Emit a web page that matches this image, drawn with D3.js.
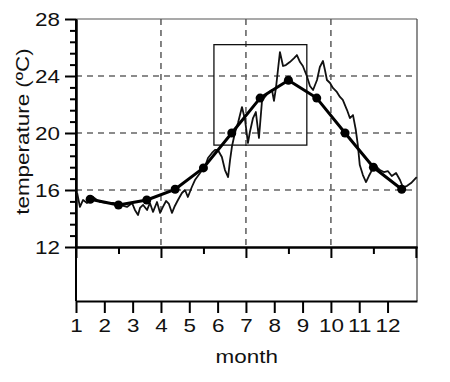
<!DOCTYPE html>
<html>
<head>
<meta charset="utf-8">
<script src="https://cdn.jsdelivr.net/npm/d3@7/dist/d3.min.js"></script>
<style>
    body { margin: 0; background: #fff; }
    svg text { font-family: "Liberation Sans", Arial, sans-serif; fill: #111; }
</style>
</head>
<body>
<div id="chart"></div>
<script>
// monthly mean (thick line with dots)
var meanMonths = [1.5, 2.5, 3.5, 4.5, 5.5, 6.5, 7.5, 8.5, 9.5, 10.5, 11.5, 12.5];
var meanTemps = [15.35, 14.95, 15.3, 16.05, 17.55, 20.0, 22.45, 23.7, 22.45, 20.0, 17.6, 16.05];

// daily-ish record (thin noisy line)
var dailyMonths = [1.04, 1.14, 1.25, 1.39, 1.49, 1.60, 1.74, 1.85, 2.09, 2.31, 2.55, 2.80, 2.98, 3.08, 3.19, 3.26,
    3.37, 3.51, 3.61, 3.72, 3.86, 3.97, 4.07, 4.18, 4.28, 4.39, 4.49, 4.60, 4.74, 4.85, 4.95, 5.09, 5.20, 5.38,
    5.55, 5.66, 5.80, 5.91, 6.01, 6.15, 6.26, 6.37, 6.44, 6.51, 6.61, 6.72, 6.86, 6.97, 7.07, 7.14, 7.25, 7.35,
    7.46, 7.57, 7.67, 7.78, 7.92, 7.99, 8.06, 8.13, 8.20, 8.31, 8.41, 8.55, 8.70, 8.80, 8.91, 9.01, 9.15, 9.26,
    9.37, 9.51, 9.61, 9.72, 9.79, 9.86, 9.97, 10.07, 10.21, 10.32, 10.42, 10.57, 10.67, 10.78, 10.88, 10.95,
    11.02, 11.13, 11.24, 11.34, 11.45, 11.59, 11.73, 11.87, 12.01, 12.15, 12.30, 12.44, 12.54, 12.68, 12.83,
    12.93, 13.03];
var dailyTemps = [15.79, 14.81, 15.30, 15.09, 15.44, 15.51, 15.30, 15.16, 15.09, 15.09, 14.95, 14.81, 15.09, 14.60,
    14.25, 14.74, 14.95, 14.60, 15.09, 14.46, 15.16, 14.39, 14.81, 15.23, 15.02, 14.39, 14.88, 15.30, 15.79, 16.00,
    15.51, 16.21, 16.70, 17.19, 17.61, 18.25, 18.60, 18.81, 18.81, 18.32, 17.40, 16.91, 18.11, 19.09, 20.00, 20.70,
    21.82, 20.91, 19.30, 20.07, 21.05, 21.47, 19.65, 22.32, 22.53, 22.81, 23.02, 22.25, 23.16, 24.42, 25.68, 24.70,
    24.77, 24.98, 25.26, 25.47, 24.98, 24.70, 24.00, 23.30, 23.02, 23.72, 24.63, 25.05, 24.42, 23.72, 23.51, 23.16,
    22.88, 22.53, 22.32, 21.61, 21.05, 21.26, 20.21, 19.16, 17.75, 17.05, 16.56, 16.98, 17.40, 17.68, 17.40, 17.26,
    17.33, 16.98, 17.19, 16.70, 16.21, 16.28, 16.49, 16.70, 16.91];

// zoom box: [month from, month to, temp from, temp to]
var insetBox = [5.87, 9.15, 19.15, 26.2];

var yTicks = [12, 16, 20, 24, 28];
var yGrid = [16, 20, 24];
var xTicks = [1, 2, 3, 4, 5, 6, 7, 8, 9, 10, 11, 12];
var xGrid = [4, 7, 10];
var xTopMajor = [1, 4, 7, 10, 13];
var xTopMinor = [2.5, 5.5, 8.5, 11.5];

(function () {
    var width = 450, height = 382;
    var left = 76, right = 417, topY = 19, plotBottom = 247, panelBottom = 301;

    var svg = d3.select("#chart").append("svg")
        .attr("width", width)
        .attr("height", height);

    var x = d3.scaleLinear().domain([1, 13.04]).range([left, right]);
    var y = d3.scaleLinear().domain([12, 28]).range([plotBottom, topY]);

    // minor y ticks every 0.8
    var yMinor = d3.range(12, 28.01, 0.8).filter(function (v) {
        return yTicks.indexOf(Math.round(v * 100) / 100) < 0;
    });

    // grid
    svg.append("g").selectAll("line").data(yGrid).enter().append("line")
        .attr("x1", left).attr("x2", right)
        .attr("y1", function (d) { return y(d); })
        .attr("y2", function (d) { return y(d); })
        .attr("stroke", "#666").attr("stroke-width", 1.6).attr("stroke-dasharray", "6,5");
    svg.append("g").selectAll("line").data(xGrid).enter().append("line")
        .attr("x1", function (d) { return x(d); })
        .attr("x2", function (d) { return x(d); })
        .attr("y1", topY).attr("y2", plotBottom)
        .attr("stroke", "#666").attr("stroke-width", 1.6).attr("stroke-dasharray", "6,5");

    // frame: thin top and right
    svg.append("line").attr("x1", left).attr("x2", right).attr("y1", topY).attr("y2", topY)
        .attr("stroke", "#555").attr("stroke-width", 1.2);
    svg.append("line").attr("x1", right).attr("x2", right).attr("y1", topY).attr("y2", panelBottom)
        .attr("stroke", "#444").attr("stroke-width", 1.2);

    // y axis (major + minor)
    svg.append("g").attr("class", "axis y-major")
        .attr("transform", "translate(" + left + ",0)")
        .call(d3.axisLeft(y).tickValues(yTicks).tickSize(11).tickSizeOuter(0).tickPadding(5));
    svg.append("g").attr("class", "axis y-minor")
        .attr("transform", "translate(" + left + ",0)")
        .call(d3.axisLeft(y).tickValues(yMinor).tickSize(6).tickSizeOuter(0).tickFormat(""));

    // x axis under the upper panel, ticks into the empty lower panel
    svg.append("g").attr("class", "axis x-mid")
        .attr("transform", "translate(0," + plotBottom + ")")
        .call(d3.axisBottom(x).tickValues(xTopMajor).tickSize(11).tickSizeOuter(0).tickFormat(""));
    svg.append("g").attr("class", "axis x-mid-minor")
        .attr("transform", "translate(0," + plotBottom + ")")
        .call(d3.axisBottom(x).tickValues(xTopMinor).tickSize(7).tickSizeOuter(0).tickFormat(""));

    // bottom month axis
    svg.append("g").attr("class", "axis x-bottom")
        .attr("transform", "translate(0," + panelBottom + ")")
        .call(d3.axisBottom(x).tickValues(xTicks).tickSize(12).tickSizeOuter(0).tickPadding(6)
            .tickFormat(d3.format("d")));

    // left line through both panels
    svg.append("line").attr("x1", left).attr("x2", left).attr("y1", topY).attr("y2", panelBottom)
        .attr("stroke", "#000").attr("stroke-width", 2);

    svg.selectAll(".axis").attr("font-size", null).attr("font-family", null);
    svg.selectAll(".axis path").attr("stroke", "#000").attr("stroke-width", 2);
    svg.selectAll(".axis line").attr("stroke", "#000").attr("stroke-width", 2);
    svg.selectAll(".axis text").style("font-size", "19px").attr("fill", "#111");
    svg.selectAll(".y-major text").attr("dy", "0.36em");

    // inset box
    svg.append("rect")
        .attr("x", x(insetBox[0]))
        .attr("y", y(insetBox[3]))
        .attr("width", x(insetBox[1]) - x(insetBox[0]))
        .attr("height", y(insetBox[2]) - y(insetBox[3]))
        .attr("fill", "none").attr("stroke", "#111").attr("stroke-width", 1.3);

    // noisy record
    var daily = dailyMonths.map(function (m, i) { return [m, dailyTemps[i]]; });
    svg.append("path")
        .datum(daily)
        .attr("fill", "none").attr("stroke", "#111").attr("stroke-width", 1.8)
        .attr("stroke-linejoin", "round")
        .attr("d", d3.line().x(function (d) { return x(d[0]); }).y(function (d) { return y(d[1]); }));

    // monthly mean
    var mean = meanMonths.map(function (m, i) { return [m, meanTemps[i]]; });
    svg.append("path")
        .datum(mean)
        .attr("fill", "none").attr("stroke", "#000").attr("stroke-width", 3)
        .attr("stroke-linejoin", "round")
        .attr("d", d3.line().x(function (d) { return x(d[0]); }).y(function (d) { return y(d[1]); }));
    svg.append("g").selectAll("circle").data(mean).enter().append("circle")
        .attr("cx", function (d) { return x(d[0]); })
        .attr("cy", function (d) { return y(d[1]); })
        .attr("r", 4.5).attr("fill", "#000");

    // titles
    svg.append("text")
        .attr("x", x(7.03)).attr("y", 363)
        .attr("text-anchor", "middle").style("font-size", "19px")
        .text("month");
    svg.append("text")
        .attr("transform", "translate(29," + y(20.1) + ") rotate(-90)")
        .attr("text-anchor", "middle").style("font-size", "19px")
        .text("temperature (ºC)");

    // the original lettering is noticeably wider than Arial
    svg.selectAll("text").each(function () {
        var len = this.getComputedTextLength();
        if (len > 0) {
            d3.select(this).attr("textLength", len * 1.18).attr("lengthAdjust", "spacingAndGlyphs");
        }
    });
})();
</script>
</body>
</html>
